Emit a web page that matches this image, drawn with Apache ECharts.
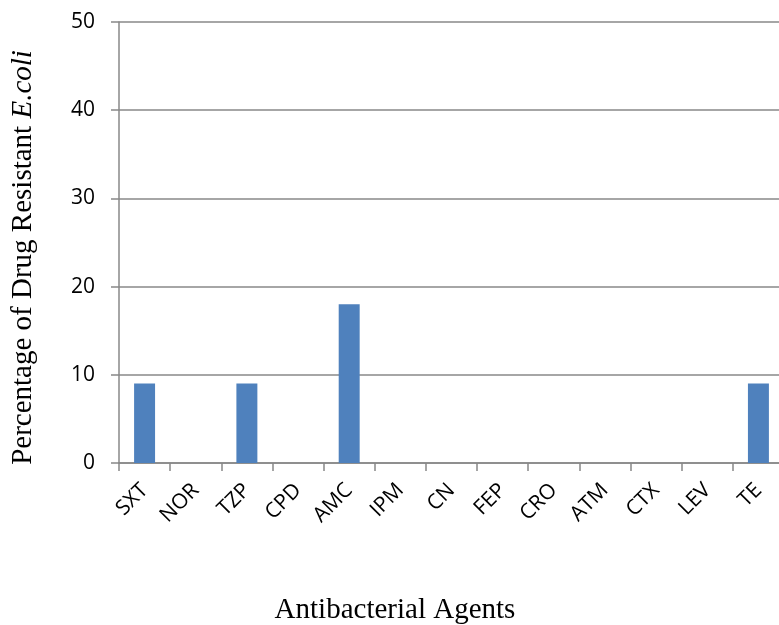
<!DOCTYPE html>
<html>
<head>
<meta charset="utf-8">
<script src="https://cdn.jsdelivr.net/npm/echarts@6/dist/echarts.min.js"></script>
<style>html,body{margin:0;padding:0;background:#fff;}#c{width:779px;height:625px;}</style>
</head>
<body>
<div id="c"></div>
<script>
const categories = ['SXT','NOR','TZP','CPD','AMC','IPM','CN','FEP','CRO','ATM','CTX','LEV','TE'];
const resistance = [9,0,9,0,18,0,0,0,0,0,0,0,9];
const yTicks = {min:0, max:50, interval:10};

const chart = echarts.init(document.getElementById('c'), null, {renderer:'canvas'});
chart.setOption({
  animation:false,
  grid:{left:119, width:665, top:22, height:441, containLabel:false, outerBoundsMode:'none'},
  xAxis:{
    type:'category', data:categories,
    axisLine:{lineStyle:{color:'#888', width:1.5}},
    axisTick:{show:true, alignWithLabel:false, length:8, lineStyle:{color:'#888', width:1.5}},
    axisLabel:{rotate:45, interval:0, fontFamily:'Open Sans', fontSize:21, color:'#000', margin:24}
  },
  yAxis:{
    type:'value', min:yTicks.min, max:yTicks.max, interval:yTicks.interval,
    name:'{n|Percentage of Drug Resistant }{i|E.coli}',
    nameLocation:'middle', nameRotate:90, nameGap:81,
    nameTextStyle:{padding:[0,30,0,0], rich:{
      n:{fontFamily:'Liberation Serif', fontSize:29, color:'#000'},
      i:{fontFamily:'Liberation Serif', fontSize:29, fontStyle:'italic', color:'#000'}
    }},
    axisLine:{show:true, lineStyle:{color:'#888', width:1.5}},
    axisTick:{show:true, length:8, lineStyle:{color:'#888', width:1.5}},
    splitLine:{lineStyle:{color:'#888', width:1.5}},
    axisLabel:{fontFamily:'Open Sans', fontSize:21, color:'#000', margin:24}
  },
  graphic:[{
    type:'text', x:395, y:596,
    style:{text:'Antibacterial Agents', fontFamily:'Liberation Serif', fontSize:29, fill:'#000', textAlign:'center'}
  }],
  series:[{
    type:'bar', data:resistance, barWidth:'41%',
    itemStyle:{color:'#4f81bd'}
  }]
});
</script>
</body>
</html>
